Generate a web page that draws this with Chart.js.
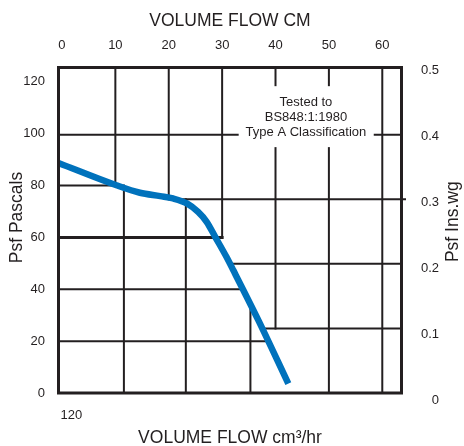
<!DOCTYPE html>
<html>
<head>
<meta charset="utf-8">
<script src="https://cdn.jsdelivr.net/npm/chart.js@4"></script>
<style>
  html, body { margin: 0; padding: 0; background: #fff; }
</style>
</head>
<body>
<canvas id="fan-curve" width="464" height="446"></canvas>
<script>
// Fan curve (x = top axis "VOLUME FLOW CM", y = Pascals)
const flowCM = [-0.65, 10.2, 14.6, 18.4, 20.8, 23.4, 25.5, 27.1, 28.7, 30.8, 32.1, 36.8, 42.4];
const pressurePa = [88.7, 80.1, 77.2, 75.9, 75.0, 73.1, 69.8, 66.0, 60.2, 52.5, 47.3, 28.0, 3.6];

// tick labels
const flowTicks = [0, 10, 20, 30, 40, 50, 60];
const pascalTicks = [0, 20, 40, 60, 80, 100, 120];
const inwgTicks = [0, 0.1, 0.2, 0.3, 0.4, 0.5];
const bottomTicks = [120];

const PA_PER_INWG = 249;

// grid pieces (the chart has two overlapping grids that stop at the curve)
const upperV = [[10, 80], [20, 74.7], [30, 60], [40, 24.9], [50, 0], [60, 0]]; // [flow, from Pa] up to top
const lowerV = [[11.6, 80], [23.2, 74.7], [35.3, 34]];                       // [flow, Pa] down to 0
const lowerH = [[80, 10.3], [60, 30], [40, 33.9], [20, 38.6]];                // [Pa, flow] from left edge
const upperH = [[0.4, null], [0.3, 20], [0.2, 31.5], [0.1, 37.5]];           // [in.wg, flow] to right edge

const INK = '#231f20';
const FONT = '"Liberation Sans", Arial, sans-serif';

const gridPlugin = {
    id: 'fanGrid',
    beforeDatasetsDraw(chart) {
        const { ctx, chartArea: a, scales: { x, y } } = chart;
        const seg = (x0, y0, x1, y1, w) => {
            ctx.lineWidth = w;
            ctx.beginPath();
            ctx.moveTo(x0, y0);
            ctx.lineTo(x1, y1);
            ctx.stroke();
        };
        ctx.save();
        ctx.strokeStyle = INK;
        ctx.lineCap = 'square';

        upperV.forEach(([f, pa]) => {
            const px = x.getPixelForValue(f);
            seg(px, y.getPixelForValue(pa), px, a.top, 2);
        });
        lowerV.forEach(([f, pa]) => {
            const px = x.getPixelForValue(f);
            seg(px, y.getPixelForValue(pa), px, a.bottom, 2);
        });
        lowerH.forEach(([pa, f]) => {
            const py = y.getPixelForValue(pa);
            seg(a.left, py, x.getPixelForValue(f), py, pa === 60 ? 3 : 2);
        });
        upperH.forEach(([wg, f]) => {
            const py = y.getPixelForValue(wg * PA_PER_INWG);
            const x0 = f === null ? a.left : x.getPixelForValue(f);
            seg(x0, py, a.right + (wg === 0.3 ? 3.5 : 0), py, 2);
        });

        // note box
        const bx0 = x.getPixelForValue(33.1), bx1 = x.getPixelForValue(58.4);
        const by0 = y.getPixelForValue(118.3), by1 = y.getPixelForValue(94.8);
        ctx.fillStyle = '#fff';
        ctx.fillRect(bx0, by0, bx1 - bx0, by1 - by0);
        ctx.fillStyle = INK;
        ctx.font = '13px ' + FONT;
        ctx.textAlign = 'center';
        ctx.textBaseline = 'middle';
        const cx = x.getPixelForValue(45.7);
        ctx.fillText('Tested to', cx, y.getPixelForValue(111.9));
        ctx.fillText('BS848:1:1980', cx, y.getPixelForValue(106.3));
        ctx.fillText('Type A Classification', cx, y.getPixelForValue(100.5));
        ctx.restore();
    },
    afterDatasetsDraw(chart) {
        const { ctx, chartArea: a } = chart;
        ctx.save();
        ctx.strokeStyle = INK;
        ctx.lineWidth = 3;
        ctx.strokeRect(a.left, a.top, a.right - a.left, a.bottom - a.top);

        // side titles read bottom-to-top
        ctx.fillStyle = INK;
        ctx.font = '17.5px ' + FONT;
        ctx.textAlign = 'center';
        ctx.textBaseline = 'middle';
        [['Psf Pascals', 17, 217.5], ['Psf Ins.wg', 453, 221.7]].forEach(([t, tx, ty]) => {
            ctx.save();
            ctx.translate(tx, ty);
            ctx.rotate(-Math.PI / 2);
            ctx.fillText(t, 0, 0);
            ctx.restore();
        });
        ctx.restore();
    }
};

const tickFont = { family: FONT, size: 13 };
const titleFont = { family: FONT, size: 17.5, lineHeight: 1 };
const noGrid = { display: false, drawTicks: false };
const setTicks = list => s => { s.ticks = list.map(v => ({ value: v })); };

new Chart(document.getElementById('fan-curve'), {
    type: 'line',
    data: {
        datasets: [{
            data: flowCM.map((f, i) => ({ x: f, y: pressurePa[i] })),
            borderColor: '#0072bc',
            borderWidth: 6.5,
            pointRadius: 0,
            cubicInterpolationMode: 'monotone',
            clip: 0,
            xAxisID: 'x',
            yAxisID: 'y'
        }]
    },
    options: {
        responsive: false,
        animation: false,
        devicePixelRatio: 1,
        layout: { padding: { left: 0, top: 0, bottom: 0, right: 25 } },
        plugins: {
            legend: { display: false },
            tooltip: { enabled: false }
        },
        scales: {
            x: {
                type: 'linear',
                position: 'top',
                min: -0.65,
                max: 63.6,
                afterBuildTicks: setTicks(flowTicks),
                afterFit: s => { s.height = 67.5; },
                grid: noGrid,
                border: { display: false },
                ticks: { font: tickFont, color: INK, padding: 14.7, autoSkip: false, maxRotation: 0 },
                title: {
                    display: true,
                    text: 'VOLUME FLOW CM',
                    font: titleFont,
                    color: INK,
                    padding: { top: 12.5, bottom: 0 }
                }
            },
            xb: {
                type: 'linear',
                position: 'bottom',
                min: 120,
                max: 180,
                afterBuildTicks: setTicks(bottomTicks),
                afterFit: s => { s.height = 53; },
                grid: noGrid,
                border: { display: false },
                ticks: { font: tickFont, color: INK, padding: 14.9, align: 'start', labelOffset: 2, autoSkip: false, maxRotation: 0 },
                title: {
                    display: true,
                    text: 'VOLUME FLOW cm³/hr',
                    font: titleFont,
                    color: INK,
                    padding: { top: 0, bottom: -1 }
                }
            },
            y: {
                type: 'linear',
                position: 'left',
                min: 0,
                max: 125.5,
                afterBuildTicks: setTicks(pascalTicks),
                afterFit: s => { s.width = 58.5; },
                grid: noGrid,
                border: { display: false },
                ticks: { font: tickFont, color: INK, padding: 13.5, autoSkip: false }
            },
            y2: {
                type: 'linear',
                position: 'right',
                min: 0.0116,
                max: 0.5038,
                afterBuildTicks: setTicks(inwgTicks),
                afterFit: s => { s.width = 37.5; },
                grid: noGrid,
                border: { display: false },
                ticks: {
                    font: tickFont,
                    color: INK,
                    crossAlign: 'far',
                    autoSkip: false,
                    callback: v => (v === 0 ? '0' : v.toFixed(1))
                }
            }
        }
    },
    plugins: [gridPlugin]
});
</script>
</body>
</html>
